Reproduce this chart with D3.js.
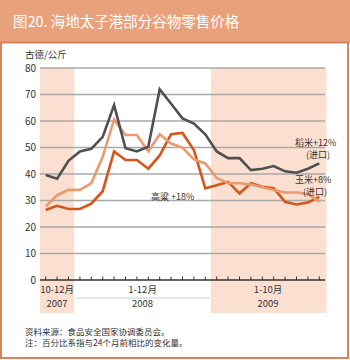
<!DOCTYPE html>
<html>
<head>
<meta charset="utf-8">
<script src="https://cdn.jsdelivr.net/npm/d3@7"></script>
<style>
  body { margin: 0; background: #fff; }
  svg { display: block; font-family: "Noto Sans CJK SC", "Noto Sans", sans-serif; }
</style>
</head>
<body>
<svg id="chart" width="350" height="360"></svg>
<script>
const months = [
  "2007-10", "2007-11", "2007-12",
  "2008-01", "2008-02", "2008-03", "2008-04", "2008-05", "2008-06",
  "2008-07", "2008-08", "2008-09", "2008-10", "2008-11", "2008-12",
  "2009-01", "2009-02", "2009-03", "2009-04", "2009-05",
  "2009-06", "2009-07", "2009-08", "2009-09", "2009-10"
];
const rice = [39.6, 38.2, 45, 48.5, 49.5, 54, 66, 49.7, 48.5, 50.3, 72, 66.5, 61,
  59, 55, 48.5, 46, 46, 41.5, 42, 43, 41, 40.5, 42, 44];
const maize = [27.7, 32, 34, 34, 36.5, 46.5, 60.5, 54.7, 54.7, 48.5, 55, 51.5, 50,
  45.5, 44, 38.5, 36.5, 36.5, 36, 35, 34, 33, 33, 32.5, 29.5];
const sorghum = [26.4, 28, 26.8, 26.8, 28.8, 33.5, 48.5, 45.3, 45.3, 42, 47, 55, 55.5,
  49, 34.6, 35.8, 37, 32.7, 36.5, 35.2, 34.6, 29.5, 28.5, 29.2, 31.4];
const yTicks = [0, 10, 20, 30, 40, 50, 60, 70, 80];
const periods = [
  { from: "2007-10", to: "2007-12", range: "10-12月", year: "2007", shaded: true },
  { from: "2008-01", to: "2008-12", range: "1-12月", year: "2008", shaded: false },
  { from: "2009-01", to: "2009-10", range: "1-10月", year: "2009", shaded: true }
];

const svg = d3.select("#chart");
const W = 350, H = 360;

// header band + frame
svg.append("rect").attr("x", 0).attr("y", 0).attr("width", W).attr("height", 43).attr("fill", "#e9a17b");
svg.append("rect").attr("x", 1).attr("y", 42.5).attr("width", W - 3).attr("height", H - 44.5)
  .attr("fill", "#fff").attr("stroke", "#d7835c").attr("stroke-width", 2);
svg.append("text").attr("x", 13).attr("y", 27).attr("fill", "#fff")
  .attr("font-size", 14.5).text("图20. 海地太子港部分谷物零售价格");

const x = d3.scaleBand().domain(months).range([40, 325]);
const xc = m => x(m) + x.bandwidth() / 2;
const y = d3.scaleLinear().domain([0, 80]).range([280, 68]);

// shaded periods
periods.filter(p => p.shaded).forEach(p => {
  svg.append("rect")
    .attr("x", x(p.from)).attr("y", y(80))
    .attr("width", x(p.to) + x.bandwidth() - x(p.from) + (p.year === "2009" ? 1.5 : 0))
    .attr("height", 313 - y(80))
    .attr("fill", "#fbe0d1");
});

// gridlines
svg.append("g").selectAll("line").data(yTicks.filter(d => d > 0)).join("line")
  .attr("x1", 40).attr("x2", 325)
  .attr("y1", d => y(d)).attr("y2", d => y(d))
  .attr("stroke", "#a9a9a9").attr("stroke-width", 1.4);

// y labels
svg.append("g").selectAll("text").data(yTicks).join("text")
  .attr("x", 36).attr("y", d => y(d) + 3.5)
  .attr("text-anchor", "end").attr("font-size", 10).attr("fill", "#333")
  .text(d => d);
svg.append("text").attr("x", 25).attr("y", 58).attr("font-size", 9.5).attr("fill", "#333").text("古德/公斤");

// lines
const line = d3.line().x((d, i) => xc(months[i])).y(d => y(d));
[[sorghum, "#d4561d"], [maize, "#eb9a70"], [rice, "#505050"]].forEach(([data, col]) => {
  svg.append("path").datum(data).attr("d", line)
    .attr("fill", "none").attr("stroke", col).attr("stroke-width", 2.6)
    .attr("stroke-linejoin", "miter");
});

// x axis
svg.append("line").attr("x1", 40).attr("x2", 325).attr("y1", 280).attr("y2", 280)
  .attr("stroke", "#333").attr("stroke-width", 1.3);
svg.append("g").selectAll("line").data(months).join("line")
  .attr("x1", d => xc(d)).attr("x2", d => xc(d))
  .attr("y1", 280).attr("y2", 276.5)
  .attr("stroke", "#333").attr("stroke-width", 1);

// period labels
periods.forEach(p => {
  const cx = (x(p.from) + x(p.to) + x.bandwidth()) / 2;
  svg.append("text").attr("x", cx).attr("y", 293).attr("text-anchor", "middle")
    .attr("font-size", 9.5).attr("fill", "#333").text(p.range);
  svg.append("text").attr("x", cx).attr("y", 307).attr("text-anchor", "middle")
    .attr("font-size", 9.5).attr("fill", "#333").text(p.year);
});
svg.append("line").attr("x1", x("2008-01") + 2).attr("x2", x("2009-01") - 1)
  .attr("y1", 298).attr("y2", 298).attr("stroke", "#cfcfcf").attr("stroke-width", 1);

// series labels
const lab = (tx, ty, t, anchor) => svg.append("text").attr("x", tx).attr("y", ty)
  .attr("font-size", 9).attr("fill", "#333").attr("text-anchor", anchor || "start").text(t);
lab(295, 146, "稻米+12%");
lab(318, 158, "(进口)", "middle");
lab(295, 183, "玉米+8%");
lab(315, 195, "(进口)", "middle");
lab(151, 200, "高粱 +18%");

// notes
svg.append("text").attr("x", 25).attr("y", 335).attr("font-size", 8.5).attr("fill", "#333")
  .text("资料来源：食品安全国家协调委员会。");
svg.append("text").attr("x", 25).attr("y", 346).attr("font-size", 8.5).attr("fill", "#333")
  .text("注：百分比系指与24个月前相比的变化量。");
</script>
</body>
</html>
